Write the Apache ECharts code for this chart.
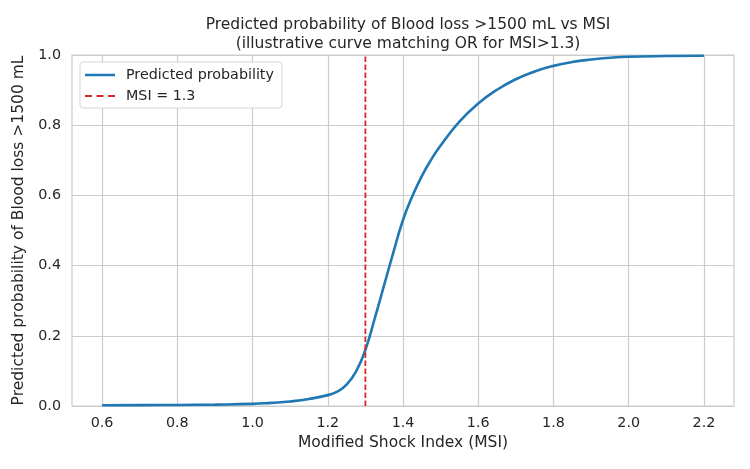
<!DOCTYPE html>
<html>
<head>
<meta charset="utf-8">
<script src="https://cdn.jsdelivr.net/npm/echarts@6/dist/echarts.min.js"></script>
<style>
  html, body { margin: 0; padding: 0; background: #fff; }
  #main { width: 750px; height: 469px; }
</style>
</head>
<body>
<div id="main"></div>
<script>
// data
var msi = [0.6, 0.7, 0.8, 0.9, 1.0, 1.05, 1.1, 1.15, 1.2, 1.225, 1.25, 1.275, 1.3,
           1.325, 1.35, 1.375, 1.4, 1.425, 1.45, 1.475, 1.5, 1.55, 1.6, 1.65, 1.7,
           1.75, 1.8, 1.85, 1.9, 1.95, 2.0, 2.1, 2.2];
var prob = [0.002, 0.0025, 0.003, 0.004, 0.006, 0.009, 0.013, 0.02, 0.031, 0.041, 0.061, 0.098, 0.16,
            0.25, 0.345, 0.44, 0.53, 0.598, 0.655, 0.702, 0.742, 0.81, 0.862, 0.901, 0.931,
            0.953, 0.969, 0.98, 0.987, 0.992, 0.995, 0.997, 0.998];
var cutoff = 1.3;
var xTicks = [0.6, 0.8, 1.0, 1.2, 1.4, 1.6, 1.8, 2.0, 2.2];

var txt = '#262626';
var font = 'DejaVu Sans';

var chart = echarts.init(document.getElementById('main'));

var option = {
    backgroundColor: '#fff',
    animation: false,
    textStyle: { fontFamily: font, color: txt },
    title: {
        text: 'Predicted probability of Blood loss >1500 mL vs MSI\n(illustrative curve matching OR for MSI>1.3)',
        left: 403,
        top: 11,
        textAlign: 'center',
        textStyle: { fontFamily: font, fontSize: 15.5, fontWeight: 'normal', color: txt, lineHeight: 18.5 }
    },
    legend: {
        orient: 'vertical',
        left: 80,
        top: 62,
        padding: [6, 8, 5, 5],
        itemGap: 7,
        itemWidth: 30,
        itemHeight: 2.5,
        backgroundColor: '#fff',
        borderColor: '#d5d5d5',
        borderWidth: 1,
        borderRadius: 3,
        textStyle: { fontFamily: font, fontSize: 14.3, color: txt, padding: [0, 0, 0, 6] },
        data: [
            { name: 'Predicted probability', icon: 'path://M0,0H30V2.5H0Z' },
            { name: 'MSI = 1.3', icon: 'path://M0,0H7V2H0Z M11.5,0H18.5V2H11.5Z M23,0H30V2H23Z' }
        ]
    },
    grid: {
        left: 72, right: 16, top: 55, bottom: 63,
        outerBoundsMode: 'none',
        show: true,
        borderColor: '#cccccc',
        borderWidth: 1.2
    },
    xAxis: {
        type: 'value',
        min: 0.52,
        max: 2.28,
        name: 'Modified Shock Index (MSI)',
        nameLocation: 'middle',
        nameGap: 29,
        nameTextStyle: { fontFamily: font, fontSize: 15.5, color: txt },
        axisLine: { show: false },
        axisTick: { show: false, customValues: xTicks },
        axisLabel: {
            customValues: xTicks,
            margin: 10,
            fontFamily: font, fontSize: 14.3, color: txt,
            formatter: function (v) { return v.toFixed(1); }
        },
        splitLine: { show: true, lineStyle: { color: '#cccccc', width: 1.2 } }
    },
    yAxis: {
        type: 'value',
        min: 0,
        max: 1,
        interval: 0.2,
        name: 'Predicted probability of Blood loss >1500 mL',
        nameLocation: 'middle',
        nameGap: 36,
        nameTextStyle: { fontFamily: font, fontSize: 15.5, color: txt },
        axisLine: { show: false },
        axisTick: { show: false },
        axisLabel: {
            margin: 11,
            fontFamily: font, fontSize: 14.3, color: txt,
            formatter: function (v) { return v.toFixed(1); }
        },
        splitLine: { show: true, lineStyle: { color: '#cccccc', width: 1.2 } }
    },
    series: [
        {
            name: 'Predicted probability',
            type: 'line',
            smooth: 0.5,
            symbol: 'none',
            showSymbol: false,
            lineStyle: { color: '#1f77b4', width: 2.6 },
            itemStyle: { color: '#1f77b4' },
            data: msi.map(function (x, i) { return [x, prob[i]]; }),
            z: 3
        },
        {
            name: 'MSI = 1.3',
            type: 'line',
            symbol: 'none',
            showSymbol: false,
            lineStyle: { color: '#d62728', width: 1.8, type: [5.5, 2.5] },
            itemStyle: { color: '#d62728' },
            data: [[cutoff, 0], [cutoff, 1]],
            z: 4
        }
    ]
};

chart.setOption(option);
</script>
</body>
</html>
